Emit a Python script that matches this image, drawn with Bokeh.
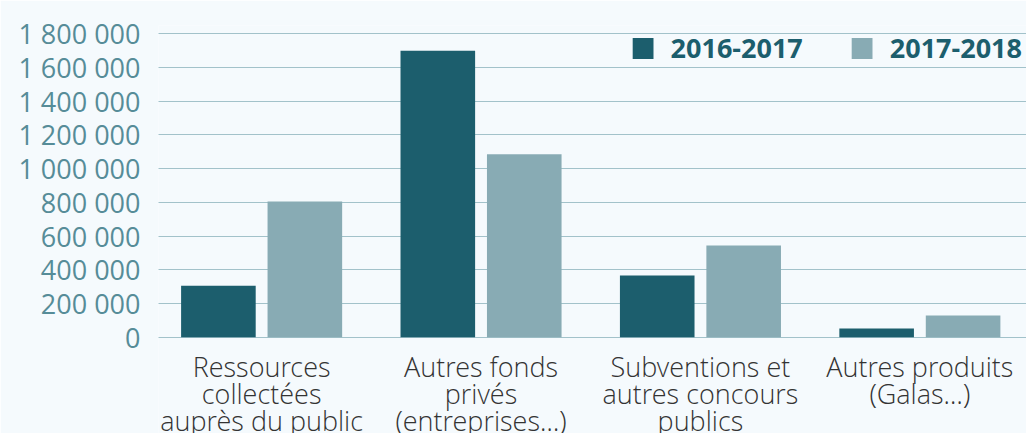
from bokeh.plotting import figure
from bokeh.models import Range1d, FixedTicker, ColumnDataSource
from bokeh.core.properties import value
from bokeh.embed import file_html
from bokeh.resources import INLINE

categories = ["Ressources\ncollectées\nauprès du public",
              "Autres fonds\nprivés\n(entreprises…)",
              "Subventions et\nautres concours\npublics",
              "Autres produits\n(Galas…)"]
series_names = ["2016-2017", "2017-2018"]
values_2016_2017 = [305000, 1700000, 366000, 52000]
values_2017_2018 = [805000, 1085000, 544000, 129000]
y_ticks = [0, 200000, 400000, 600000, 800000, 1000000, 1200000, 1400000, 1600000, 1800000]
y_tick_labels = ["0", "200 000", "400 000", "600 000", "800 000", "1 000 000",
                 "1 200 000", "1 400 000", "1 600 000", "1 800 000"]

DARK = "#1c5e6d"
LIGHT = "#88abb4"
BG = "#f5fafd"

W, H = 1026, 433
LEFT, TOP = 158, 25
xs = [i + 0.5 for i in range(len(categories))]
off = 0.197
bw = 0.34
x0, x1 = 0.030, 3.986

# vertical pixel layout: value 0 at y=336.8 px, 1 800 000 at y=33.3 px
y_zero_px, y_top_tick_px = 336.8, 33.3
ppy = (y_zero_px - y_top_tick_px) / y_ticks[-1]
y_end = y_ticks[-1] + (y_top_tick_px - TOP) / ppy
y_start = -(H - y_zero_px) / ppy

p = figure(width=W, height=H, output_backend="svg", toolbar_location=None,
           x_range=Range1d(x0, x1), y_range=Range1d(y_start, y_end),
           x_axis_location=None,
           min_border_left=LEFT, min_border_right=0, min_border_top=TOP, min_border_bottom=0)
p.background_fill_color = BG
p.border_fill_color = BG
p.outline_line_color = None

p.vbar(x=[x - off for x in xs], top=values_2016_2017, width=bw, color=DARK,
       line_color=None, legend_label=series_names[0])
p.vbar(x=[x + off for x in xs], top=values_2017_2018, width=bw, color=LIGHT,
       line_color=None, legend_label=series_names[1])

p.xgrid.visible = False
p.ygrid.ticker = FixedTicker(ticks=y_ticks)
p.ygrid.grid_line_color = "#4f8a97"
p.ygrid.grid_line_dash = "1 1"
p.ygrid.grid_line_width = 1

ya = p.yaxis[0]
ya.ticker = FixedTicker(ticks=y_ticks)
ya.major_label_overrides = {t: l for t, l in zip(y_ticks, y_tick_labels)}
ya.axis_line_color = None
ya.major_tick_line_color = None
ya.minor_tick_line_color = None
ya.major_label_text_font = "Open Sans"
ya.major_label_text_font_size = "27px"
ya.major_label_text_color = "#568c98"
ya.major_label_standoff = 12

# category labels, drawn below the zero line
src = ColumnDataSource(dict(x=xs, y=[-11 / ppy] * len(xs), t=categories))
p.text(x="x", y="y", text="t", source=src, text_align="center", text_baseline="top",
       text_font=value("Open Sans Light"), text_font_size="27px", text_color="#333333",
       text_line_height=0.725)

lg = p.legend[0]
lg.orientation = "horizontal"
lg.location = "top_right"
lg.margin = 4
lg.padding = 3
lg.border_line_color = None
lg.background_fill_alpha = 0
lg.glyph_width = 26
lg.glyph_height = 26
lg.label_standoff = 15
lg.spacing = 46
lg.label_text_font = "Open Sans"
lg.label_text_font_style = "bold"
lg.label_text_font_size = "27px"
lg.label_text_color = DARK

open("out.html", "w").write(file_html(p, INLINE))
